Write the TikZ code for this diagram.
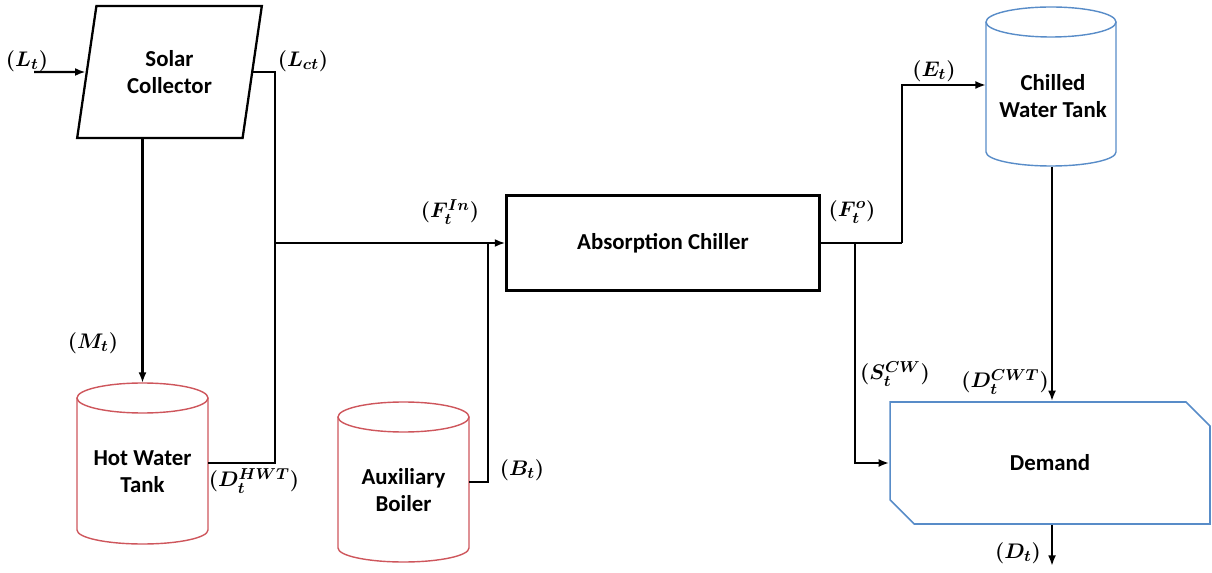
\documentclass[tikz,border=0pt]{standalone}
\usepackage{fontspec}
\setmainfont{Carlito}
\usepackage{amsmath}
\usepackage{xcolor}
\definecolor{colHot}{RGB}{206,86,92}
\definecolor{colCold}{RGB}{88,140,200}
\usetikzlibrary{arrows.meta, positioning, calc, shapes.geometric, shapes.misc}

\begin{document}
\begin{tikzpicture}[x=0.02cm, y=-0.02cm,
		pipe/.style={line width=1.3pt},
		flow/.style={pipe, -{Latex[length=6pt,width=4.5pt]}},
		lbl/.style={font=\fontsize{13}{15}\selectfont\boldmath, inner sep=0pt},
		txt/.style={font=\fontsize{13}{15.5}\selectfont\bfseries, align=center, inner sep=0pt},
		unit/.style={draw, pipe, txt, minimum width=6.26cm, minimum height=1.9cm}]
	\useasboundingbox (0,0) rectangle (1212,573);

	% solar collector
	\node[draw, pipe, txt, trapezium, trapezium left angle=75.6, trapezium right angle=104.4,
		trapezium stretches=true, minimum width=3.7cm, minimum height=2.64cm] (sc) at (169.5,72) {Solar\\Collector};
	\coordinate (lt) at (34,72);

	% tanks
	\foreach \cx/\yt/\yb/\rx/\col in {142.5/398/530/65.5/colHot, 403.5/417/548/65.5/colHot, 1051/22/152/65/colCold} {
		\draw[draw=\col, line width=0.8pt] (\cx,\yt) ellipse[x radius={\rx*0.02cm}, y radius=0.3cm];
		\draw[draw=\col, line width=0.8pt] ({\cx-\rx},\yt) -- ({\cx-\rx},\yb)
			arc[start angle=180, end angle=360, x radius={\rx*0.02cm}, y radius=0.28cm] -- ({\cx+\rx},\yt);
	}
	\node[txt] (hwt) at (142.5,472) {Hot Water\\Tank};
	\node[txt] (boil) at (403.5,490) {Auxiliary\\Boiler};
	\node[txt] (cwt) at (1053,96) {Chilled\\Water Tank};
	\coordinate (hwt-top) at (142.5,383);
	\coordinate (hwt-out) at (208,463);
	\coordinate (boil-out) at (469,482);
	\coordinate (cwt-in) at (986,85);
	\coordinate (cwt-bot) at (1052,167);

	% chiller and demand
	\node[unit] (ac) at (663,243) {Absorption Chiller};
	\node[draw=colCold, line width=0.9pt, txt, chamfered rectangle, chamfered rectangle corners={north east, south west},
		chamfered rectangle sep=0.32cm, minimum width=6.4cm, minimum height=2.44cm] (dm) at (1050,463) {Demand};
	\coordinate (dt) at (1052,566);

	% junctions
	\coordinate (j1) at (275,243);
	\coordinate (j2) at (488,243);
	\coordinate (j3) at (855,243);
	\coordinate (j4) at (902,243);

	% connectors
	\draw[flow] (lt) -- (sc.west);
	\draw[pipe] (sc.east) -- (sc.east -| j1) -- (j1 |- hwt-out) -- (hwt-out);
	\draw[flow] (j1) -- (ac.west);
	\draw[pipe] (boil-out) -| (j2);
	\draw[flow] (sc.south -| hwt-top) -- (hwt-top);
	\draw[pipe] (ac.east) -- (j4);
	\draw[flow] (j4) |- (cwt-in);
	\draw[flow] (j3) |- (dm.west);
	\draw[flow] (cwt-bot) -- (dm.north -| cwt-bot);
	\draw[flow] (dm.south -| dt) -- (dt);

	% labels
	\node[lbl] (l-lt) at (27,61) {$(L_t)$};
	\node[lbl] (l-lct) at (303,61) {$(L_{ct})$};
	\node[lbl] (l-mt) at (93,343) {$(M_t)$};
	\node[lbl] (l-dhwt) at (254,481) {$(D_t^{HWT})$};
	\node[lbl] (l-bt) at (522,470) {$(B_t)$};
	\node[lbl] (l-fin) at (450,212) {$(F_t^{In})$};
	\node[lbl] (l-fo) at (852,212) {$(F_t^{o})$};
	\node[lbl] (l-et) at (934,71) {$(E_t)$};
	\node[lbl] (l-scw) at (895,374) {$(S_t^{CW})$};
	\node[lbl] (l-dcwt) at (1005,382) {$(D_t^{CWT})$};
	\node[lbl] (l-dt) at (1018,553) {$(D_t)$};
\end{tikzpicture}
\end{document}
